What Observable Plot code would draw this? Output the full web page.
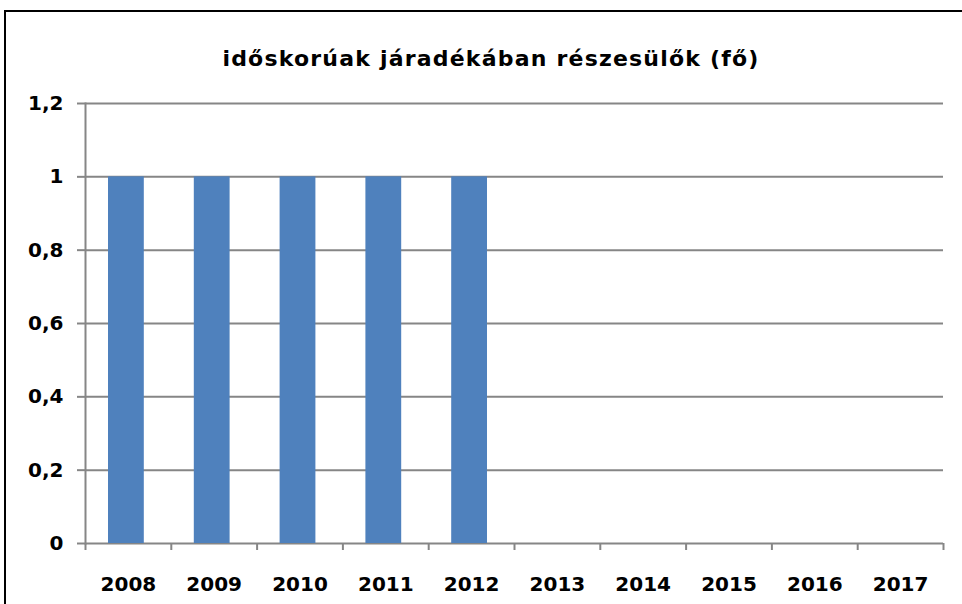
<!DOCTYPE html>
<html>
<head>
<meta charset="utf-8">
<script src="https://cdn.jsdelivr.net/npm/d3@7"></script>
<script src="https://cdn.jsdelivr.net/npm/@observablehq/plot@0.6"></script>
<style>
  html, body { margin: 0; padding: 0; background: #fff; }
  #wrap { position: relative; width: 962px; height: 604px; overflow: hidden; background: #fff; }
  #border { position: absolute; left: 4px; top: 10px; width: 990px; height: 640px; border: 2px solid #000; box-sizing: border-box; pointer-events: none; z-index: 2; }
  #title { position: absolute; left: 0; top: 45px; width: 982px; text-align: center;
           font-family: "DejaVu Sans", sans-serif; font-weight: bold; font-size: 22px; letter-spacing: 1.2px; line-height: 28px; color: #000; }
  #chart { position: absolute; left: 0; top: 90px; z-index: 1; }
</style>
</head>
<body>
<div id="wrap">
  <div id="title">időskorúak járadékában részesülők (fő)</div>
  <div id="chart"></div>
  <div id="border"></div>
</div>
<script>
const years = ["2008","2009","2010","2011","2012","2013","2014","2015","2016","2017"];
const values = [1, 1, 1, 1, 1, 0, 0, 0, 0, 0];
const yTicks = [0, 0.2, 0.4, 0.6, 0.8, 1, 1.2];

const data = years.map((y, i) => ({year: y, value: values[i]}));

const width = 962, height = 514;
const marginLeft = 85, marginRight = 19, marginTop = 13, marginBottom = 61;
const half = (width - marginLeft - marginRight) / years.length / 2;
const fmt = d => String(d).replace(".", ",");
const grid = "#868686";

const plot = Plot.plot({
  width, height, marginLeft, marginRight, marginTop, marginBottom,
  style: {fontFamily: "DejaVu Sans, sans-serif", fontWeight: "bold", fontSize: "20px", color: "#000", background: "transparent"},
  x: {domain: years, padding: 0, round: false, label: null},
  y: {domain: [0, 1.2], label: null},
  marks: [
    Plot.ruleY(yTicks, {stroke: grid, strokeWidth: 2}),
    Plot.barY(data, {x: "year", y: "value", fill: "#4F81BD", insetLeft: 23, insetRight: 27}),
    Plot.axisY({ticks: yTicks, tickFormat: fmt, tickSize: 8, tickPadding: 14, stroke: grid, strokeWidth: 2, strokeOpacity: 1, fill: "#000"}),
    Plot.frame({anchor: "left", stroke: grid, strokeWidth: 2}),
    Plot.axisX({ticks: years, tickSize: 7, tickFormat: () => "", dx: -half, stroke: grid, strokeWidth: 2, strokeOpacity: 1}),
    Plot.axisX({ticks: ["2017"], tickSize: 7, tickFormat: () => "", dx: half, stroke: grid, strokeWidth: 2, strokeOpacity: 1}),
    Plot.axisX({ticks: years, tickSize: 0, tickPadding: 33, fill: "#000"})
  ]
});
document.getElementById("chart").appendChild(plot);
</script>
</body>
</html>
